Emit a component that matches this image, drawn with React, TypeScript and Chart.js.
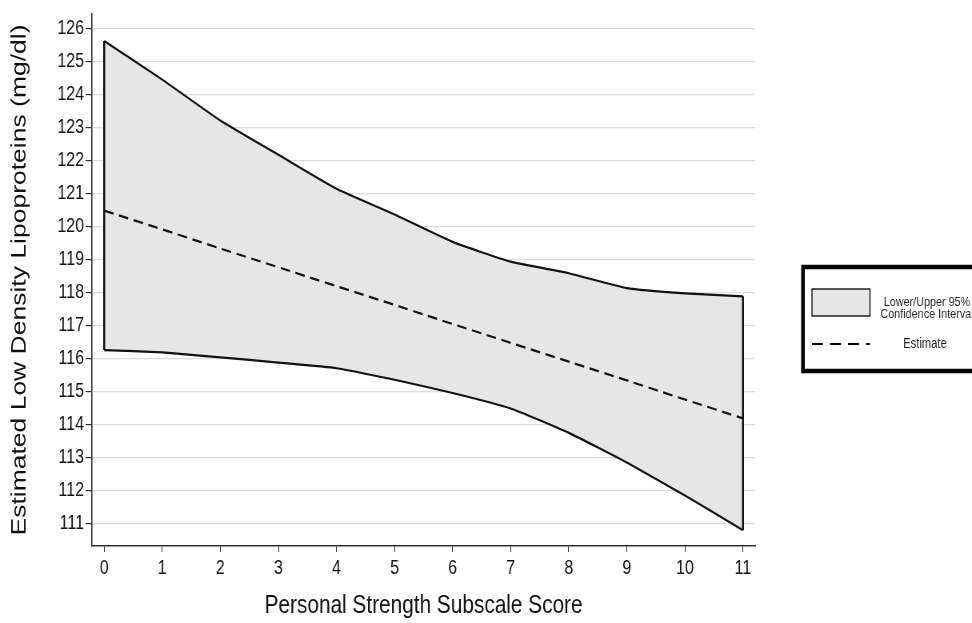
import React, { useEffect, useRef } from "react";
import { Chart, registerables } from "chart.js";

Chart.register(...registerables);

const scores = [0, 1, 2, 3, 4, 5, 6, 7, 8, 9, 10, 11];
const upperCI = [125.62, 124.45, 123.21, 122.17, 121.14, 120.36, 119.53, 118.93, 118.58, 118.13, 117.97, 117.88];
const lowerCI = [116.25, 116.18, 116.03, 115.87, 115.7, 115.35, 114.95, 114.48, 113.74, 112.84, 111.84, 110.79];
const estimate = [120.48, 119.91, 119.33, 118.76, 118.19, 117.62, 117.04, 116.47, 115.9, 115.33, 114.75, 114.18];
const yTicks = [111, 112, 113, 114, 115, 116, 117, 118, 119, 120, 121, 122, 123, 124, 125, 126];
const xTicks = scores;
const legendCI = ["Lower/Upper 95%", "Confidence Interval"];
const legendEst = "Estimate";
const xTitle = "Personal Strength Subscale Score";
const yTitle = "Estimated Low Density Lipoproteins (mg/dl)";

// The reference is horizontally compressed; draw on a wider canvas and squeeze it.
const SQUEEZE = 0.8;
const W = Math.round(972 / SQUEEZE);
const H = 623;
const SANS = "'Liberation Sans', Arial, sans-serif";

const legendPlugin = {
  id: "ciLegend",
  afterDraw(chart: any) {
    const ctx = chart.ctx;
    const sx = (v: number) => v / SQUEEZE;
    ctx.save();
    ctx.lineWidth = 4.5;
    ctx.strokeStyle = "#000";
    ctx.strokeRect(sx(803), 267, sx(260), 104);
    ctx.fillStyle = "#e6e6e6";
    ctx.fillRect(sx(812), 289, sx(58), 27);
    ctx.lineWidth = 1.3;
    ctx.strokeRect(sx(812), 289, sx(58), 27);
    ctx.fillStyle = "#222";
    ctx.textAlign = "center";
    ctx.textBaseline = "middle";
    ctx.font = "13.5px " + SANS;
    ctx.fillText(legendCI[0], sx(927), 302);
    ctx.fillText(legendCI[1], sx(927), 314);
    ctx.font = "14px " + SANS;
    ctx.fillText(legendEst, sx(925), 344);
    ctx.setLineDash([sx(11), sx(7)]);
    ctx.lineWidth = 2.2;
    ctx.beginPath();
    ctx.moveTo(sx(812), 344);
    ctx.lineTo(sx(870), 344);
    ctx.stroke();
    ctx.restore();
  },
};

export default function App() {
  const ref = useRef<HTMLCanvasElement>(null);
  useEffect(() => {
    const canvas = ref.current!;
    const pts = (arr: number[]) => scores.map((x, i) => ({ x, y: arr[i] }));
    const last = scores.length - 1;
    const lineCommon = { borderColor: "#111", borderWidth: 2.2, pointRadius: 0 };
    const chart = new Chart(canvas, {
      type: "line",
      data: {
        datasets: [
          { label: "Upper", data: pts(upperCI), ...lineCommon, tension: 0.15, fill: "+1", backgroundColor: "#e6e6e6" },
          { label: "Lower", data: pts(lowerCI), ...lineCommon, tension: 0.15, fill: false },
          { label: "Estimate", data: pts(estimate), ...lineCommon, borderDash: [12, 7], tension: 0, fill: false },
          {
            label: "leftEdge",
            data: [
              { x: scores[0], y: lowerCI[0] },
              { x: scores[0], y: upperCI[0] },
            ],
            ...lineCommon,
            borderWidth: 2.5,
            fill: false,
          },
          {
            label: "rightEdge",
            data: [
              { x: scores[last], y: lowerCI[last] },
              { x: scores[last], y: upperCI[last] },
            ],
            ...lineCommon,
            borderWidth: 2.5,
            fill: false,
          },
        ],
      },
      options: {
        animation: false,
        responsive: false,
        devicePixelRatio: 1,
        layout: { padding: { left: 0, top: 10, right: Math.round(W - 755 / SQUEEZE), bottom: 0 } },
        plugins: {
          legend: { display: false },
          tooltip: { enabled: false },
          filler: { drawTime: "beforeDatasetsDraw" },
        },
        scales: {
          x: {
            type: "linear",
            min: -0.21,
            max: 11.21,
            afterBuildTicks: (s: any) => {
              s.ticks = xTicks.map((v) => ({ value: v }));
            },
            afterFit: (s: any) => {
              s.height = H - 546;
            },
            grid: { drawOnChartArea: false, drawTicks: true, tickLength: 6, tickColor: "#333" },
            border: { display: true, color: "#333", width: 1.4 },
            ticks: { color: "#111", font: { family: SANS, size: 20 }, padding: 4, maxRotation: 0 },
            title: {
              display: true,
              text: xTitle,
              color: "#111",
              font: { family: SANS, size: 26 },
              padding: { top: 4, bottom: 2 },
            },
          },
          y: {
            type: "linear",
            min: 110.31,
            max: 126.44,
            afterBuildTicks: (s: any) => {
              s.ticks = yTicks.map((v) => ({ value: v }));
            },
            afterFit: (s: any) => {
              s.width = Math.round(92 / SQUEEZE);
            },
            grid: { color: "#dcdcdc", lineWidth: 1.2, drawTicks: true, tickLength: 8, tickColor: "#333" },
            border: { display: true, color: "#333", width: 1.6 },
            ticks: { color: "#111", font: { family: SANS, size: 20 }, padding: 2 },
            title: {
              display: true,
              text: yTitle,
              color: "#111",
              font: { family: SANS, size: 26.5 },
              padding: { top: 9, bottom: 0 },
            },
          },
        },
      },
      plugins: [legendPlugin],
    } as any);
    return () => chart.destroy();
  }, []);
  return (
    <div style={{ position: "fixed", left: 0, top: 0, width: 972, height: 623, overflow: "hidden", background: "#fff" }}>
      <div style={{ width: W, height: H, transform: `scale(${SQUEEZE}, 1)`, transformOrigin: "0 0" }}>
        <canvas ref={ref} width={W} height={H} style={{ display: "block" }} />
      </div>
    </div>
  );
}
